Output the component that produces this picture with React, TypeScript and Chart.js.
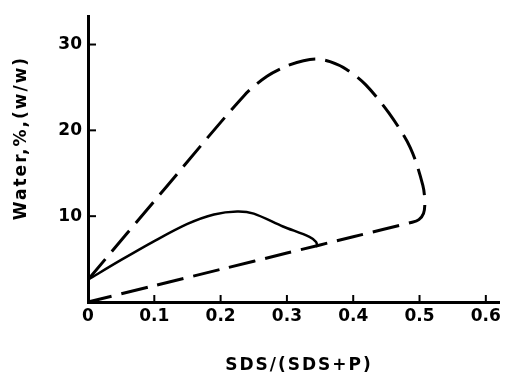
import { useEffect, useRef } from 'react';
import { Chart, registerables } from 'chart.js';

Chart.register(...registerables);

// ---- data ----
const xTickValues = [0, 0.1, 0.2, 0.3, 0.4, 0.5, 0.6];
const xTickLabels = ['0', '0.1', '0.2', '0.3', '0.4', '0.5', '0.6'];
const yTickValues = [10, 20, 30];
const yTickLabels = ['10', '20', '30'];
const xTitle = 'SDS/(SDS+P)';
const yTitle = 'Water,%,(w/w)';

// dashed boundary (upper branch, arc, lower branch back to origin)
const boundaryX = [0, 0.118, 0.236, 0.27, 0.3, 0.325, 0.345, 0.365, 0.39, 0.419, 0.454, 0.486, 0.505, 0.508, 0.506, 0.499, 0.489, 0.4, 0.3, 0.2, 0.1, 0];
const boundaryY = [2.6, 13.4, 24.1, 26.3, 27.5, 28.1, 28.3, 28.0, 27.1, 25.3, 22.0, 18.0, 13.6, 11.6, 10.3, 9.6, 9.3, 7.6, 5.7, 3.8, 1.9, 0];

// solid curve
const solidX = [0, 0.05, 0.1, 0.15, 0.19, 0.225, 0.25, 0.294, 0.334, 0.344, 0.346];
const solidY = [2.6, 4.9, 7.1, 9.1, 10.2, 10.55, 10.3, 8.8, 7.6, 7.0, 6.4];

const X_MIN = 0;
const X_MAX = 0.62;
const Y_MIN = 0;
const Y_MAX = 33.3;

const toPoints = (xs: number[], ys: number[]) => xs.map((x, i) => ({ x, y: ys[i] }));

const FONT_FAMILY = '"DejaVu Sans", sans-serif';

const tickMarksPlugin = {
  id: 'innerTicks',
  afterDraw(chart: any) {
    const ctx = chart.ctx;
    const xs = chart.scales.x;
    const ys = chart.scales.y;
    const { left, bottom } = chart.chartArea;
    ctx.save();
    ctx.strokeStyle = '#000';
    ctx.lineWidth = 2;
    xTickValues.forEach((v) => {
      if (v === 0) return;
      const px = xs.getPixelForValue(v);
      ctx.beginPath();
      ctx.moveTo(px, bottom);
      ctx.lineTo(px, bottom - 7);
      ctx.stroke();
    });
    yTickValues.forEach((v) => {
      const py = ys.getPixelForValue(v);
      ctx.beginPath();
      ctx.moveTo(left, py);
      ctx.lineTo(left + 8, py);
      ctx.stroke();
    });
    ctx.restore();
  },
};

const axisTitlesPlugin = {
  id: 'axisTitles',
  afterDraw(chart: any) {
    const ctx = chart.ctx;
    ctx.save();
    ctx.fillStyle = '#000';
    ctx.font = `bold 17px ${FONT_FAMILY}`;
    (ctx as any).letterSpacing = '2px';
    ctx.textAlign = 'center';
    ctx.textBaseline = 'middle';
    ctx.fillText(xTitle, 299, 366);
    ctx.translate(22, 138);
    ctx.rotate(-Math.PI / 2);
    ctx.fillText(yTitle, 0, 0);
    ctx.restore();
  },
};

export default function App() {
  const canvasRef = useRef<HTMLCanvasElement | null>(null);

  useEffect(() => {
    const canvas = canvasRef.current;
    if (!canvas) return;
    const chart = new Chart(canvas, {
      type: 'scatter',
      data: {
        datasets: [
          {
            data: toPoints(boundaryX, boundaryY),
            showLine: true,
            borderColor: '#000',
            borderWidth: 3,
            borderDash: [27, 10],
            pointRadius: 0,
            tension: 0.3,
            fill: false,
            clip: false as any,
          },
          {
            data: toPoints(solidX, solidY),
            showLine: true,
            borderColor: '#000',
            borderWidth: 2.5,
            pointRadius: 0,
            tension: 0.3,
            fill: false,
            clip: false as any,
          },
        ],
      },
      options: {
        animation: false,
        responsive: false,
        devicePixelRatio: 1,
        layout: { padding: { top: 12, right: 3.5, left: 0, bottom: 0 } },
        plugins: {
          legend: { display: false },
          tooltip: { enabled: false },
        },
        scales: {
          x: {
            type: 'linear',
            min: X_MIN,
            max: X_MAX,
            grid: { display: false, drawTicks: false },
            border: { display: true, color: '#000', width: 3 },
            afterBuildTicks: (scale: any) => {
              scale.ticks = xTickValues.map((v) => ({ value: v }));
            },
            afterFit: (scale: any) => {
              scale.height = 75;
            },
            ticks: {
              color: '#000',
              padding: 4,
              maxRotation: 0,
              autoSkip: false,
              font: { family: FONT_FAMILY, size: 17, weight: 'bold' },
              callback: (_v: any, i: number) => xTickLabels[i],
            },
          },
          y: {
            type: 'linear',
            min: Y_MIN,
            max: Y_MAX,
            grid: { display: false, drawTicks: false },
            border: { display: true, color: '#000', width: 3 },
            afterBuildTicks: (scale: any) => {
              scale.ticks = yTickValues.map((v) => ({ value: v }));
            },
            afterFit: (scale: any) => {
              scale.width = 88;
            },
            ticks: {
              color: '#000',
              padding: 6,
              autoSkip: false,
              font: { family: FONT_FAMILY, size: 17, weight: 'bold' },
              callback: (_v: any, i: number) => yTickLabels[i],
            },
          },
        },
      } as any,
      plugins: [tickMarksPlugin, axisTitlesPlugin],
    });
    return () => chart.destroy();
  }, []);

  return (
    <div style={{ position: 'absolute', left: 0, top: 0, width: 505, height: 377, background: '#fff' }}>
      <canvas ref={canvasRef} width={505} height={377} style={{ display: 'block' }} />
    </div>
  );
}
